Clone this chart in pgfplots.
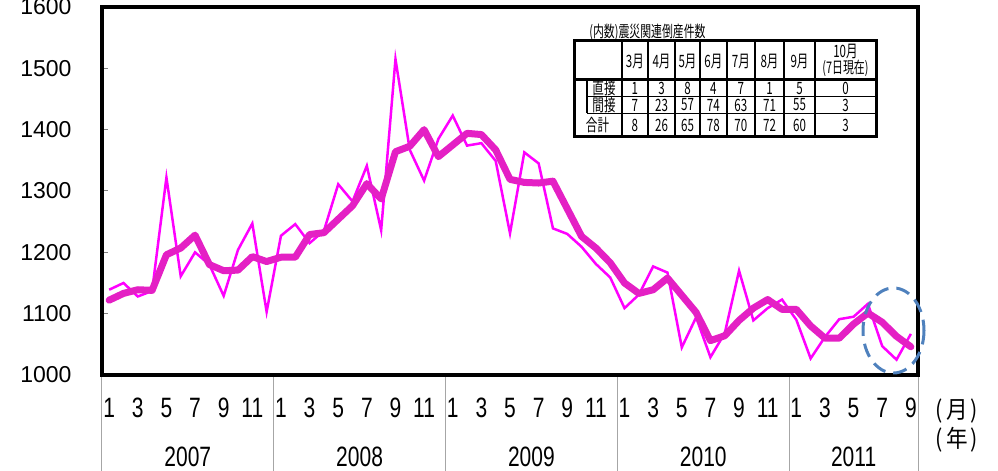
\documentclass[border=0pt]{standalone}
\usepackage{pgfplots}
\pgfplotsset{compat=1.18}
\usepackage{fontspec}
\setmainfont{Liberation Sans}
\newfontfamily\narrowfont[FakeStretch=0.75]{Liberation Sans}
\newfontfamily\jpfont[FakeStretch=0.68]{Noto Sans CJK JP}
\newfontfamily\jpwfont[FakeStretch=0.9]{Noto Sans CJK JP}
\definecolor{thinmag}{RGB}{255,0,255}
\definecolor{thickmag}{RGB}{228,32,196}
\definecolor{ellblue}{RGB}{79,129,189}
\begin{document}
\begin{tikzpicture}[x=1bp,y=1bp]
\path[use as bounding box] (-102,-96) rectangle (896,375);
\begin{scope}[shift={(-102bp,375bp)}, yscale=-1]
\foreach \x in {101.8,273.7,445.5,617.4,789.2,918.1}
  \draw[gray!70, line width=1bp] (\x,375) -- (\x,471);
\end{scope}
\begin{axis}[
  at={(0,0)}, anchor=south west,
  width=816bp, height=368bp, scale only axis,
  xmin=-0.5, xmax=56.5, ymin=1000, ymax=1600,
  axis line style={line width=4.5bp, black},
  tick align=inside,
  xtick pos=bottom, ytick pos=left,
  ytick={1000,1100,1200,1300,1400,1500,1600},
  yticklabels={1000,1100,1200,1300,1400,1500,1600},
  ytick style={draw=gray, line width=1bp},
  major tick length=6bp,
  yticklabel style={font=\fontsize{23bp}{27bp}\selectfont, anchor=east, xshift=-27bp},
  xtick={0,2,...,56},
  xticklabels={1,3,5,7,9,11,1,3,5,7,9,11,1,3,5,7,9,11,1,3,5,7,9,11,1,3,5,7,9},
  xtick style={draw=none},
  xticklabel style={font=\narrowfont\fontsize{28bp}{32bp}\selectfont, anchor=center, yshift=-33bp},
  clip=false,
]
\addplot[color=thinmag, line width=2.5bp, mark=none] coordinates {
(0,1139)(1,1150)(2,1128)(3,1137)(4,1322)(5,1161)(6,1200)(7,1180)(8,1129)(9,1204)(10,1247)(11,1103)
(12,1227)(13,1246)(14,1215)(15,1235)(16,1311)(17,1283)(18,1341)(19,1236)(20,1515)(21,1367)(22,1317)(23,1385)
(24,1423)(25,1374)(26,1378)(27,1349)(28,1231)(29,1363)(30,1345)(31,1239)(32,1230)(33,1209)(34,1181)(35,1159)
(36,1109)(37,1131)(38,1177)(39,1167)(40,1045)(41,1094)(42,1029)(43,1068)(44,1170)(45,1089)(46,1109)(47,1123)
(48,1090)(49,1027)(50,1062)(51,1091)(52,1095)(53,1116)(54,1047)(55,1025)(56,1067)
};
\addplot[color=thickmag, line width=7bp, line join=round, line cap=round, mark=none] coordinates {
(0,1122)(1,1133)(2,1139)(3,1138)(4,1196)(5,1207)(6,1228)(7,1180)(8,1170)(9,1171)(10,1193)(11,1185)
(12,1192)(13,1192)(14,1229)(15,1232)(16,1254)(17,1276)(18,1312)(19,1287)(20,1364)(21,1373)(22,1400)(23,1356)
(24,1375)(25,1394)(26,1392)(27,1367)(28,1319)(29,1314)(30,1313)(31,1316)(32,1271)(33,1226)(34,1207)(35,1183)
(36,1150)(37,1133)(38,1139)(39,1158)(40,1130)(41,1102)(42,1056)(43,1064)(44,1089)(45,1109)(46,1123)(47,1107)
(48,1107)(49,1080)(50,1060)(51,1060)(52,1083)(53,1101)(54,1086)(55,1063)(56,1046)
};
\end{axis}
\begin{scope}[shift={(-102bp,375bp)}, yscale=-1]
% dashed ellipse annotation
\draw[color=ellblue, line width=3bp, dash pattern=on 14bp off 8bp] (893.5,330.5) ellipse [x radius=30.5, y radius=42.5];
% year labels
\foreach \x/\yr in {187.8/2007,359.6/2008,531.4/2009,703.3/2010,853.6/2011}
  \node[font=\narrowfont\fontsize{28bp}{32bp}\selectfont] at (\x,457) {\yr};
\node[font=\jpwfont\fontsize{24bp}{28bp}\selectfont] at (957,411) {(\hspace{3bp}月\hspace{3bp})};
\node[font=\jpwfont\fontsize{24bp}{28bp}\selectfont] at (957,440) {(\hspace{3bp}年\hspace{3bp})};
% table
\node[font=\jpfont\fontsize{16bp}{18bp}\selectfont] at (647.5,32) {(内数)震災関連倒産件数};
\fill[white] (574,40.7) rectangle (876,137);
\draw[line width=3bp] (574,40.7) rectangle (876,137);
\draw[line width=3bp] (574,80) -- (876,80);
\foreach \x in {621.7,648,675,700,726.7,755,784,815} \draw[line width=2bp] (\x,40.7) -- (\x,137);
\draw[line width=1.5bp] (587,96.5) -- (876,96.5);
\draw[line width=1.5bp] (587,113.5) -- (876,113.5);
\draw[line width=1.5bp] (587,80) -- (587,113.5);
\begin{scope}[every node/.style={font=\jpfont\fontsize{17bp}{19bp}\selectfont, inner sep=0}]
\foreach \x/\m in {634.9/3,661.5/4,687.5/5,713.4/6,740.9/7,769.5/8,799.5/9}
  \node at (\x,62) {\m 月};
\node at (845.5,51.5) {10月};
\node[font=\jpfont\fontsize{16bp}{18bp}\selectfont] at (845.5,68.5) {(7日現在)};
\node at (604,88.5) {直接};
\node at (604,105) {間接};
\node at (597.5,125.5) {合計};
\foreach \x/\a/\b/\c in {634.9/1/7/8, 661.5/3/23/26, 687.5/8/57/65, 713.4/4/74/78, 740.9/7/63/70, 769.5/1/71/72, 799.5/5/55/60, 845.5/0/3/3}
{ \node at (\x,88.5) {\a}; \node at (\x,105) {\b}; \node at (\x,125.5) {\c}; }
\end{scope}
\end{scope}
\end{tikzpicture}
\end{document}
